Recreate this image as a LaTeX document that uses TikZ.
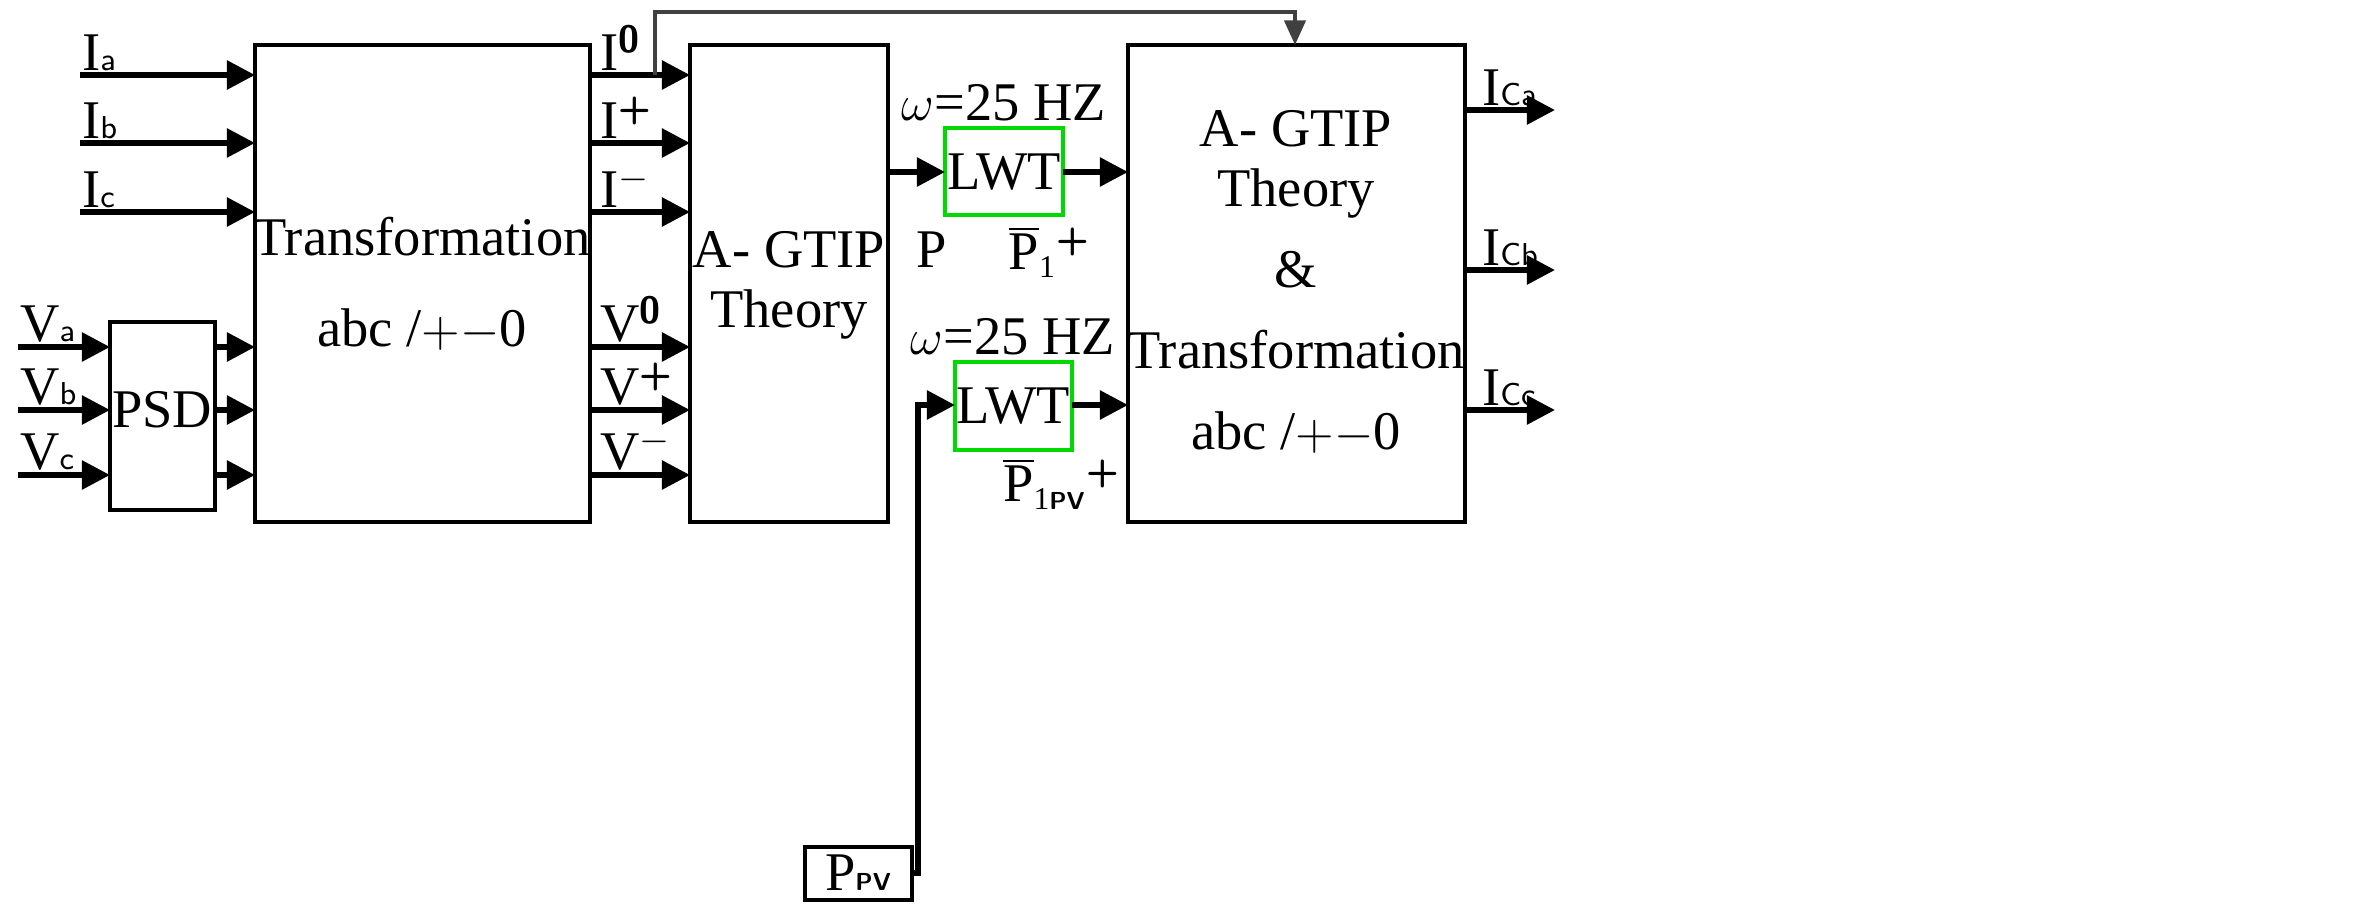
\documentclass[tikz,border=0pt]{standalone}
\usepackage{fontspec}
\setmainfont{Liberation Serif}
\usetikzlibrary{arrows.meta}
\tikzset{blk/.style={draw,line width=1.2pt,inner sep=0pt}}
\tikzset{lwt/.style={draw=green!85!black,line width=1.2pt,inner sep=0pt}}
\tikzset{sig/.style={line width=1.6pt,-{Triangle[length=8pt,width=8pt]}}}
\tikzset{lbl/.style={font=\fontsize{15.5}{17}\selectfont,inner sep=1pt}}
\newcommand{\px}[2]{({#1/100},{(923-#2)/100})}
\newcommand{\sgn}[1]{\textsuperscript{\textsf{\bfseries #1}}}

\begin{document}
\begin{tikzpicture}[x=1cm,y=1cm]
\useasboundingbox (0,0) rectangle (23.69,9.23);

% blocks
\draw[blk] \px{255}{45} rectangle \px{590}{522};
\draw[blk] \px{690}{45} rectangle \px{888}{522};
\draw[blk] \px{1128}{45} rectangle \px{1465}{522};
\draw[blk] \px{110}{322} rectangle \px{215}{510};
\draw[lwt] \px{945}{128} rectangle \px{1063}{215};
\draw[lwt] \px{955}{362} rectangle \px{1072}{450};
\draw[blk] \px{805}{847} rectangle \px{912}{900};

% block texts
\node[lbl] (tr) at \px{422}{237} {Transformation};
\node[lbl] (trabc) at \px{422}{330} {abc /$+-$0};
\node[lbl,align=center] (gtip) at \px{789}{285} {A- GTIP\\Theory};
\node[lbl,align=center] (gtip2) at \px{1296}{282} {A- GTIP\\Theory\\[6pt]\&\\[6pt]Transformation\\[6pt]abc /$+-$0};
\node[lbl] (psd) at \px{162}{410} {PSD};
\node[lbl] (lwt1) at \px{1004}{172} {LWT};
\node[lbl] (lwt2) at \px{1013}{406} {LWT};
\node[lbl] (ppv) at \px{858}{873} {P\textsf{\scriptsize\bfseries PV}};
\node[lbl] (w1) at \px{1004}{103} {$\omega$=25 HZ};
\node[lbl] (w2) at \px{1013}{337} {$\omega$=25 HZ};
\node[lbl] (p) at \px{932}{250} {P};
\node[lbl] (p1) at \px{1050}{252} {$\overline{\mbox{P}}$\textsubscript{\small 1}\sgn{+}};
\node[lbl] (p2) at \px{1062}{484} {$\overline{\mbox{P}}$\textsubscript{\small 1\textsf{\bfseries\scriptsize PV}}\sgn{+}};

% current inputs
\foreach \y/\t in {75/a,143/b,212/c}{
  \draw[sig] \px{80}{\y} -- \px{255}{\y};
  \node[lbl,anchor=south west] at \px{78}{\y} {I\textsf{\small \t}};
}
% voltage inputs
\foreach \y/\t in {347/a,410/b,475/c}{
  \draw[sig] \px{18}{\y} -- \px{110}{\y};
  \draw[sig] \px{215}{\y} -- \px{255}{\y};
  \node[lbl,anchor=south west] at \px{16}{\y} {V\textsf{\small \t}};
}
% sequence signals
\foreach \y/\s/\t in {75/I/0,143/I/+,212/I/$-$,347/V/0,410/V/+,475/V/$-$}{
  \draw[sig] \px{590}{\y} -- \px{690}{\y};
  \node[lbl,anchor=south west] at \px{596}{\y} {\s\sgn{\t}};
}
% feedback of I0
\draw[line width=1.1pt,draw=black!75,-{Triangle[length=7pt,width=6pt]}]
  \px{655}{75} -- \px{655}{12} -- \px{1295}{12} -- \px{1295}{45};

% power paths
\draw[sig] \px{888}{172} -- \px{945}{172};
\draw[sig] \px{1063}{172} -- \px{1128}{172};
\draw[sig] \px{1072}{405} -- \px{1128}{405};
\draw[sig] \px{912}{873} -- \px{918}{873} -- \px{918}{405} -- \px{955}{405};

% compensating currents
\foreach \y/\t in {110/a,270/b,410/c}{
  \draw[sig] \px{1465}{\y} -- \px{1555}{\y};
  \node[lbl,anchor=south west] at \px{1478}{\y} {I\textsf{\small C\t}};
}
\end{tikzpicture}
\end{document}
